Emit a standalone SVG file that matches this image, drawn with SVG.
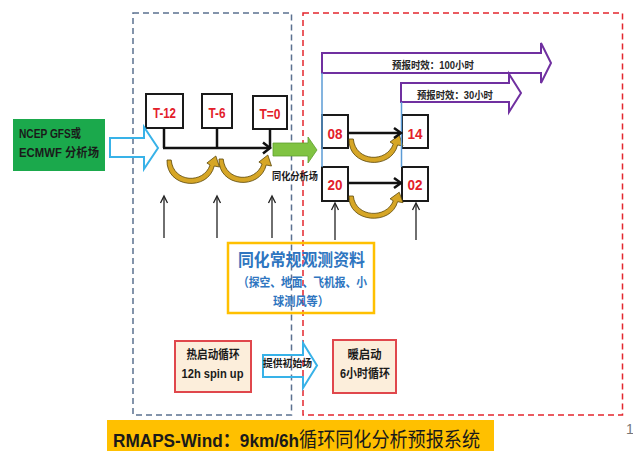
<svg xmlns="http://www.w3.org/2000/svg" width="633" height="451" viewBox="0 0 633 451">
<defs>
<style>
text { font-family: "Liberation Sans", "Noto Sans CJK SC", sans-serif; }
.b { font-weight: bold; }
.frame-blue { fill: none; stroke: #5B7190; stroke-width: 1.5; stroke-dasharray: 6 4; }
.frame-red { fill: none; stroke: #E3262E; stroke-width: 1.5; stroke-dasharray: 6 4; }
.tbox { fill: #fff; stroke: #1a1a1a; stroke-width: 2; }
.tlabel { fill: #E3202A; font-size: 15px; font-weight: bold; text-anchor: middle; }
.ln { stroke: #111; stroke-width: 2.5; fill: none; }
.thin { stroke: #222; stroke-width: 1.3; fill: none; }
.purple { fill: #fff; stroke: #7030A0; stroke-width: 2; }
.blueline { stroke: #5B9BD5; stroke-width: 1.5; }
.hollow { fill: none; stroke: #38B2E8; stroke-width: 2; }
.cream { fill: #FCEEDB; stroke: #E0474C; stroke-width: 2; }
.curl { fill: #D6A626; stroke: #5f4b0d; stroke-width: 0.8; }
.dark { fill: #1a1a1a; }
.mid { text-anchor: middle; }
</style>
<path id="curlShape" d="M0,0 C-1,28 39,32 45,6 L50,7 L46.5,-4 L38,3 L41,5 C35,24 6,23 4,0 Z"/>
</defs>
<rect width="633" height="451" fill="#fff"/>

<g id="frames">
<rect class="frame-blue" x="133" y="13" width="158.5" height="402"/>
<rect class="frame-red" x="303" y="13" width="319.5" height="402"/>
</g>

<g id="source">
<rect x="13" y="119" width="92" height="52" fill="#1BA94C"/>
<text class="b dark" x="19" y="138.3" font-size="12" textLength="62" lengthAdjust="spacingAndGlyphs">NCEP GFS或</text>
<text class="b dark" x="19" y="157.3" font-size="12" textLength="80" lengthAdjust="spacingAndGlyphs">ECMWF 分析场</text>
</g>

<g id="t12">
<rect class="tbox" x="146" y="94" width="37" height="34"/>
<text class="tlabel" x="164.5" y="117.5" textLength="23" lengthAdjust="spacingAndGlyphs">T-12</text>
</g>
<g id="t6">
<rect class="tbox" x="202" y="94" width="30" height="34"/>
<text class="tlabel" x="217" y="117.5" textLength="17" lengthAdjust="spacingAndGlyphs">T-6</text>
</g>
<g id="t0">
<rect class="tbox" x="253" y="96" width="34" height="33"/>
<text class="tlabel" x="270" y="118.5" textLength="21" lengthAdjust="spacingAndGlyphs">T=0</text>
</g>

<g id="n08">
<rect class="tbox" x="322" y="115" width="26" height="33"/>
<text class="tlabel" x="335" y="138.5" textLength="15" lengthAdjust="spacingAndGlyphs">08</text>
</g>
<g id="n14">
<rect class="tbox" x="402" y="115" width="26" height="33"/>
<text class="tlabel" x="415" y="138.5" textLength="15" lengthAdjust="spacingAndGlyphs">14</text>
</g>
<g id="n20">
<rect class="tbox" x="322" y="167" width="26" height="34"/>
<text class="tlabel" x="335" y="189.5" textLength="15" lengthAdjust="spacingAndGlyphs">20</text>
</g>
<g id="n02">
<rect class="tbox" x="402" y="167" width="26" height="34"/>
<text class="tlabel" x="415" y="189.5" textLength="15" lengthAdjust="spacingAndGlyphs">02</text>
</g>

<g id="obs">
<rect x="228" y="243" width="146" height="70" fill="none" stroke="#FFC000" stroke-width="2.5"/>
<text class="b mid" x="301.5" y="265.5" font-size="17" fill="#2E75C0" textLength="127" lengthAdjust="spacingAndGlyphs">同化常规观测资料</text>
<text class="b mid" x="302.5" y="287.3" font-size="12.5" fill="#2E75C0" textLength="129" lengthAdjust="spacingAndGlyphs">（探空、地面、飞机报、小</text>
<text class="b mid" x="301" y="305.8" font-size="12.5" fill="#2E75C0" textLength="56" lengthAdjust="spacingAndGlyphs">球测风等）</text>
</g>

<g id="hot">
<rect class="cream" x="175" y="341" width="76" height="51"/>
<text class="b dark mid" x="213" y="358.5" font-size="12" textLength="53" lengthAdjust="spacingAndGlyphs">热启动循环</text>
<text class="b dark mid" x="212.5" y="377.5" font-size="13" textLength="62" lengthAdjust="spacingAndGlyphs">12h spin up</text>
</g>

<g id="warm">
<rect class="cream" x="333" y="340" width="63" height="53"/>
<text class="b dark mid" x="364.5" y="358.5" font-size="12" textLength="34" lengthAdjust="spacingAndGlyphs">暖启动</text>
<text class="b dark mid" x="365" y="377.5" font-size="12" textLength="50" lengthAdjust="spacingAndGlyphs">6小时循环</text>
</g>

<g id="banner">
<rect x="107" y="420" width="387" height="31" fill="#FFC000"/>
<text x="113" y="446.5" font-size="19" fill="#1a1a1a" textLength="367" lengthAdjust="spacingAndGlyphs"><tspan font-weight="bold">RMAPS-Wind：9km/6h</tspan><tspan font-size="20" style="font-family:'Noto Sans CJK SC', sans-serif">循环同化分析预报系统</tspan></text>
</g>

<g id="connectors">
<polygon class="hollow" points="110,138 144,138 144,127 158,148 144,169 144,157 110,157"/>
<line class="ln" x1="164" y1="128" x2="164" y2="148"/>
<line class="ln" x1="217" y1="128" x2="217" y2="148"/>
<line class="ln" x1="270" y1="129" x2="270" y2="148"/>
<line class="ln" x1="163" y1="148" x2="270" y2="148"/>
<polyline class="ln" points="263,142.5 270,148 263,153.5"/>
<use href="#curlShape" class="curl" transform="translate(167,160) scale(1.05,1)"/>
<use href="#curlShape" class="curl" transform="translate(219,159) scale(1.05,1)"/>
<use href="#curlShape" class="curl" transform="translate(349,139) scale(1.08,1)"/>
<use href="#curlShape" class="curl" transform="translate(349,196) scale(1.08,0.95)"/>
<polygon points="273,143 308,143 308,137 317,150 308,163 308,156 273,156" fill="#80C342" stroke="#5E9E2E" stroke-width="0.8"/>
<text class="b dark" x="272" y="180" font-size="10" textLength="46" lengthAdjust="spacingAndGlyphs">同化分析场</text>
<polygon class="purple" points="322,53 541,53 541,43 551,63 541,83 541,73 322,73"/>
<text class="b mid" x="433" y="69" font-size="10.5" fill="#262626" textLength="82" lengthAdjust="spacingAndGlyphs">预报时效：100小时</text>
<polygon class="purple" points="401,83 509,83 509,74 521,93 509,112 509,102 401,102"/>
<text class="b mid" x="455" y="99" font-size="10.5" fill="#262626" textLength="76" lengthAdjust="spacingAndGlyphs">预报时效：30小时</text>
<line class="blueline" x1="322" y1="73" x2="322" y2="167"/>
<line class="blueline" x1="401.5" y1="102" x2="401.5" y2="167"/>
<line class="ln" x1="348" y1="133" x2="400" y2="133"/>
<polyline class="ln" points="394,128 401,133 394,138"/>
<line class="ln" x1="348" y1="183" x2="400" y2="183"/>
<polyline class="ln" points="394,178 401,183 394,188"/>
<line class="thin" x1="164" y1="238" x2="164" y2="197"/>
<polyline class="thin" points="160.5,203 164,196 167.5,203"/>
<line class="thin" x1="217" y1="238" x2="217" y2="197"/>
<polyline class="thin" points="213.5,203 217,196 220.5,203"/>
<line class="thin" x1="272" y1="238" x2="272" y2="197"/>
<polyline class="thin" points="268.5,203 272,196 275.5,203"/>
<line class="thin" x1="335" y1="240" x2="335" y2="204"/>
<polyline class="thin" points="331.5,210 335,203 338.5,210"/>
<line class="thin" x1="416" y1="240" x2="416" y2="204"/>
<polyline class="thin" points="412.5,210 416,203 419.5,210"/>
<polygon class="hollow" points="263,355 303,355 303,343 317,365.5 303,388 303,377 263,377"/>
<text class="b dark mid" x="287.5" y="367" font-size="10.5" textLength="49" lengthAdjust="spacingAndGlyphs">提供初始场</text>
</g>

<text x="626" y="434" font-size="14" fill="#777">1</text>
</svg>
